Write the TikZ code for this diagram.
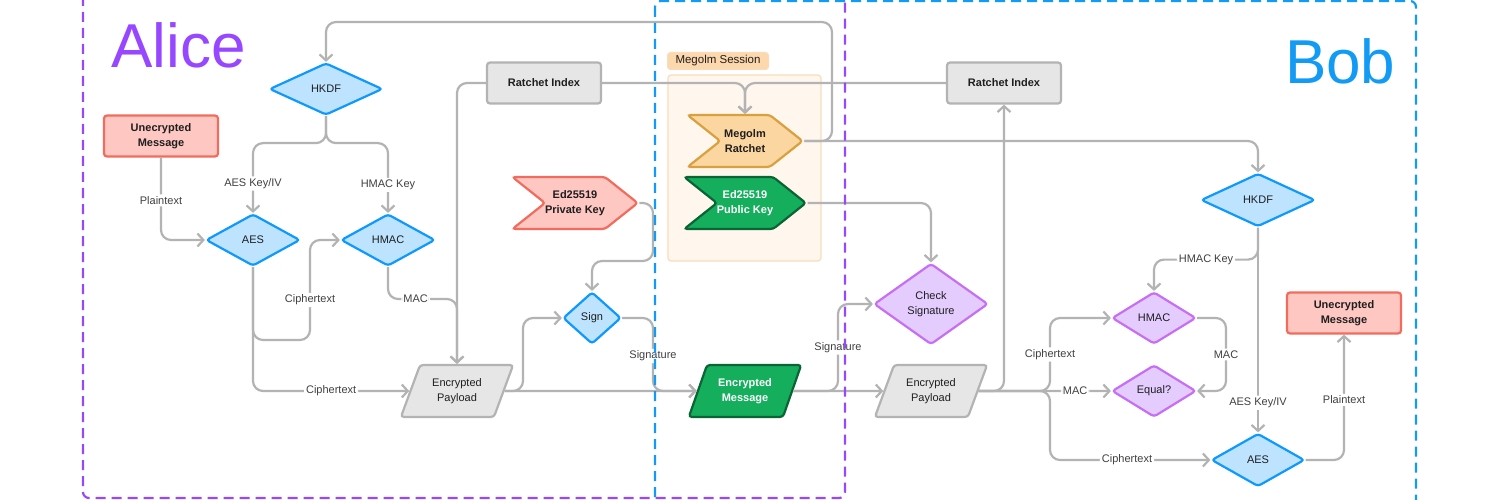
\documentclass[tikz,border=0pt]{standalone}
\usepackage{fontspec}
\setmainfont{Liberation Sans}
\usetikzlibrary{arrows.meta,shapes.geometric,shapes.symbols}
\definecolor{lineC}{RGB}{179,179,179}
\definecolor{ink}{RGB}{30,30,30}
\definecolor{aliceC}{RGB}{151,71,255}
\definecolor{bobC}{RGB}{18,155,245}
\definecolor{blueF}{RGB}{189,227,255}
\definecolor{blueD}{RGB}{13,153,255}
\definecolor{purpF}{RGB}{228,204,255}
\definecolor{purpD}{RGB}{199,110,245}
\definecolor{greyF}{RGB}{230,230,230}
\definecolor{redF}{RGB}{255,199,194}
\definecolor{redD}{RGB}{242,107,92}
\definecolor{grnF}{RGB}{20,174,92}
\definecolor{grnD}{RGB}{10,100,52}
\definecolor{orgF}{RGB}{252,214,160}
\definecolor{orgD}{RGB}{216,160,62}
\definecolor{sessF}{RGB}{255,246,238}
\definecolor{sessD}{RGB}{250,220,188}
\definecolor{tagF}{RGB}{253,216,172}

\begin{document}
\begin{tikzpicture}[x=1pt,y=-1pt,>={Straight Barb[length=6pt,width=13pt]},
  font=\fontsize{11}{15}\selectfont,
  base/.style={line width=2.2pt,align=center,inner sep=0pt,text=ink,rounded corners=3pt},
  dia/.style={base,diamond,minimum width=94pt,minimum height=52pt,fill=blueF,draw=blueD},
  pdia/.style={dia,fill=purpF,draw=purpD},
  gbox/.style={base,rectangle,minimum width=114pt,minimum height=41pt,fill=greyF,draw=lineC,font=\fontsize{11}{15}\selectfont\bfseries},
  rbox/.style={gbox,fill=redF,draw=redD},
  para/.style={base,trapezium,trapezium left angle=63,trapezium right angle=117,trapezium stretches=true,minimum width=113pt,minimum height=52pt,fill=greyF,draw=lineC},
  sig/.style={base,signal,signal from=west,signal to=east,signal pointer angle=77,minimum width=115pt,minimum height=52pt,font=\fontsize{11}{15}\selectfont\bfseries},
  link/.style={draw=lineC,line width=2.2pt,rounded corners=10pt},
  lbl/.style={fill=white,inner sep=2pt,text=ink!85},
  frame/.style={dash pattern=on 10pt off 6pt,line width=2.2pt,rounded corners=6pt}]
  \useasboundingbox (0,0) rectangle (1500,500);
  \node[anchor=base west,text=aliceC,font=\fontsize{62}{62}\selectfont] (alice) at (108,68) {Alice};
  \node[anchor=base east,text=bobC,font=\fontsize{62}{62}\selectfont] (bob) at (1399,84) {Bob};
  % Alice
  \node[dia,minimum width=113pt] (hkdfA) at (326,89) {HKDF};
  \node[rbox] (msgA) at (161,136) {Unecrypted\\Message};
  \node[dia] (aesA) at (253,240) {AES};
  \node[dia] (hmacA) at (388,240) {HMAC};
  \node[gbox] (riA) at (544,83) {Ratchet Index};
  \node[para] (payA) at (457,391) {Encrypted\\Payload};
  \node[sig,fill=redF,draw=redD] (priv) at (575,203) {Ed25519\\Private Key};
  \node[dia,minimum width=58pt] (sign) at (592,318) {Sign};
  \node[para,fill=grnF,draw=grnD,text=white,font=\fontsize{11}{15}\selectfont\bfseries] (enc) at (745,391) {Encrypted\\Message};
  % Megolm session
  \node[base,rectangle,minimum width=153pt,minimum height=186pt,fill=sessF,draw=sessD,line width=1.2pt] (sess) at (744.5,168) {};
  \node[base,rectangle,minimum width=101pt,minimum height=17pt,fill=tagF,draw=sessD,line width=1pt,font=\fontsize{11.5}{12}\selectfont] (tag) at (718,61) {Megolm Session};
  \node[sig,fill=orgF,draw=orgD] (rat) at (745,141) {Megolm\\Ratchet};
  \node[sig,fill=grnF,draw=grnD,text=white] (pub) at (745,203) {Ed25519\\Public Key};
  % Bob
  \node[gbox] (riB) at (1004,83) {Ratchet Index};
  \node[pdia,minimum width=114pt,minimum height=81pt] (chk) at (931,304) {Check\\Signature};
  \node[para] (payB) at (931,391) {Encrypted\\Payload};
  \node[dia,minimum width=114pt,minimum height=53pt] (hkdfB) at (1258,200) {HKDF};
  \node[pdia,minimum width=84pt] (hmacB) at (1154,318) {HMAC};
  \node[pdia,minimum width=84pt] (eq) at (1154,391) {Equal?};
  \node[dia,minimum width=93pt,minimum height=53pt] (aesB) at (1258,460) {AES};
  \node[rbox] (msgB) at (1344,313) {Unecrypted\\Message};

  \draw[link,->] (msgA.south) |- node[lbl,pos=0.26]{Plaintext} (aesA.west);
  \draw[link,->] (hkdfA.south) -- ++(0,27) -| node[lbl,pos=0.79]{AES Key/IV} (aesA.north);
  \draw[link,->] (hkdfA.south) -- ++(0,27) -| node[lbl,pos=0.8]{HMAC Key} (hmacA.north);
  \draw[link,->] (aesA.south) |- (310,340) |- node[lbl,pos=0.2]{Ciphertext} (hmacA.west);
  \draw[link,->] (aesA.south) |- node[lbl,pos=0.75]{Ciphertext} (payA.west);
  \draw[link,->] (hmacA.south) |- node[lbl,pos=0.7]{MAC} (457,299) -- (payA.north);
  \draw[link,->] (riA.west) -| (payA.north);
  \draw[link,->] (riA.east) -| (rat.north);
  \draw[link,->] (riB.west) -| (rat.north);
  \draw[link,->] (rat.east) -| (832,22) -| (hkdfA.north);
  \draw[link,->] (rat.east) -| (hkdfB.north);
  \draw[link,->] (priv.east) -| (653,261) -| (sign.north);
  \draw[link,->] (payA.east) -| (523,318) -- (sign.west);
  \draw[link,->] (payA.east) -- (enc.west);
  \draw[link,->] (sign.east) -| node[lbl,pos=0.76]{Signature} (653,391) -- (enc.west);
  \draw[link,->] (pub.east) -| (chk.north);
  \draw[link,->] (enc.east) -| node[lbl,pos=0.75]{Signature} (838,304) -- (chk.west);
  \draw[link,->] (enc.east) -- (payB.west);
  \draw[link,->] (payB.east) -| (riB.south);
  \draw[link,->] (payB.east) -| node[lbl,pos=0.75]{Ciphertext} (1050,318) -- (hmacB.west);
  \draw[link,->] (payB.east) -- node[lbl,pos=0.73]{MAC} (eq.west);
  \draw[link,->] (payB.east) -| (1050,460) -- node[lbl,pos=0.48]{Ciphertext} (aesB.west);
  \draw[link,->] (hmacB.east) -| node[lbl,pos=0.75]{MAC} (1226,391) -- (eq.east);
  \draw[link,->] (hkdfB.south) -- ++(0,32) -| node[lbl,pos=0.25]{HMAC Key} (hmacB.north);
  \draw[link,->] (hkdfB.south) -- node[lbl,pos=0.855]{AES Key/IV} (aesB.north);
  \draw[link,->] (aesB.east) -| node[lbl,pos=0.74]{Plaintext} (msgB.south);
  % frames
  \draw[frame,aliceC] (83,-10) rectangle (845,498);
  \draw[frame,bobC] (655,1) rectangle (1416,510);
\end{tikzpicture}
\end{document}
